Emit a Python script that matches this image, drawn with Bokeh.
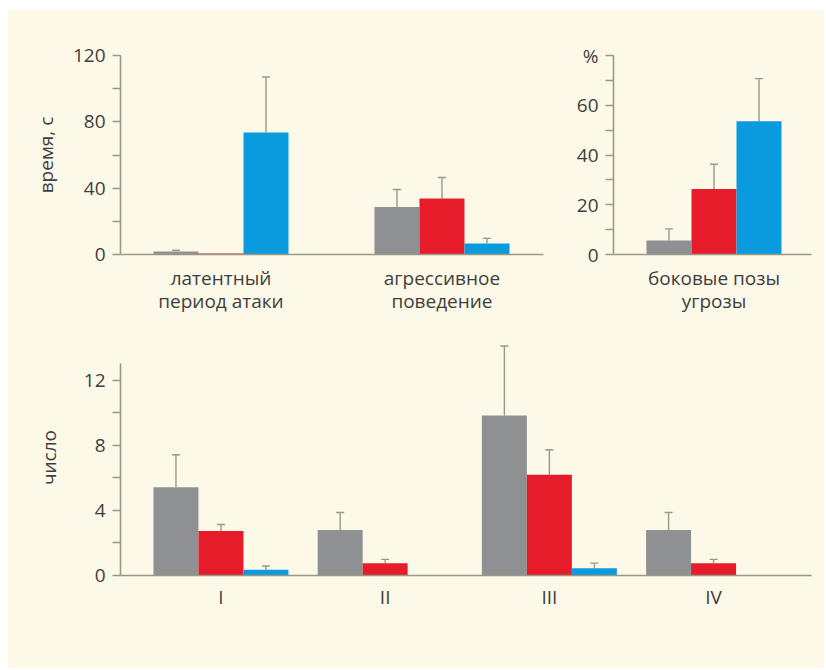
from bokeh.plotting import figure
from bokeh.layouts import column, row, Spacer
from bokeh.models import (Range1d, FixedTicker, Whisker, TeeHead, ColumnDataSource)
from bokeh.embed import file_html
from bokeh.resources import INLINE

# ---------------- data ----------------
top_categories = ["латентный\nпериод атаки", "агрессивное\nповедение"]
top_gray = [1.8, 28.7]
top_gray_err = [0.8, 10.5]
top_red = [0.6, 33.8]
top_red_err = [0.0, 12.6]
top_blue = [73.6, 6.6]
top_blue_err = [33.4, 3.1]

side_categories = ["боковые позы\nугрозы"]
side_gray = [5.6]
side_gray_err = [4.7]
side_red = [26.3]
side_red_err = [10.0]
side_blue = [53.6]
side_blue_err = [17.1]

bottom_categories = ["I", "II", "III", "IV"]
bottom_gray = [5.42, 2.8, 9.83, 2.8]
bottom_gray_err = [2.0, 1.07, 4.27, 1.07]
bottom_red = [2.74, 0.76, 6.19, 0.76]
bottom_red_err = [0.39, 0.23, 1.54, 0.23]
bottom_blue = [0.35, 0.0, 0.45, 0.0]
bottom_blue_err = [0.23, 0.0, 0.31, 0.0]

top_ticks = [0, 40, 80, 120]
top_minor = [20, 60, 100]
side_ticks = [0, 20, 40, 60, 80]
side_minor = [10, 30, 50, 70]
side_tick_labels = {80: "%"}
bottom_ticks = [0, 4, 8, 12]
bottom_minor = [2, 6, 10]

# ---------------- style ----------------
BG = "#FDF9E9"
GRAY = "#8F9092"
RED = "#E61C2A"
BLUE = "#0A9BDF"
AXIS = "#9C9888"
TXT = "#3E3E3E"
FONT = "Open Sans"
FS = "19px"


def make_fig(width, height, xr, yr, mb):
    p = figure(width=width, height=height, x_range=xr, y_range=yr,
               output_backend="svg", toolbar_location=None,
               min_border_left=mb[0], min_border_top=mb[1],
               min_border_right=mb[2], min_border_bottom=mb[3])
    p.background_fill_color = BG
    p.border_fill_color = BG
    p.outline_line_color = None
    p.grid.visible = False
    for ax in (p.xaxis[0], p.yaxis[0]):
        ax.axis_line_color = AXIS
        ax.axis_line_width = 1.6
        ax.major_tick_line_color = AXIS
        ax.minor_tick_line_color = AXIS
        ax.major_tick_line_width = 1.3
        ax.minor_tick_line_width = 1.3
        ax.major_label_text_font = FONT
        ax.major_label_text_font_size = FS
        ax.major_label_text_color = TXT
        ax.axis_label_text_font = FONT
        ax.axis_label_text_font_size = FS
        ax.axis_label_text_font_style = "normal"
        ax.axis_label_text_color = TXT
    p.yaxis.major_tick_out = 8
    p.yaxis.major_tick_in = 0
    p.yaxis.minor_tick_out = 8
    p.yaxis.minor_tick_in = 0
    p.yaxis.major_label_standoff = 7
    p.xaxis.major_tick_out = 0
    p.xaxis.major_tick_in = 0
    p.xaxis.minor_tick_line_color = None
    p.xaxis.major_tick_line_color = None
    p.xaxis.major_label_standoff = 10
    p.xaxis.major_label_text_line_height = 0.9
    return p


def draw_groups(p, centers, series):
    offsets = [-1.0, 0.0, 1.0]
    for off, (vals, errs, color) in zip(offsets, series):
        xs = [c + off for c in centers]
        keep = [i for i, v in enumerate(vals) if v > 0]
        src = ColumnDataSource(dict(x=[xs[i] for i in keep],
                                    top=[vals[i] for i in keep]))
        p.vbar(x="x", top="top", width=1.0, bottom=0, source=src,
               fill_color=color, line_color=None)
        ek = [i for i in keep if errs[i] > 0]
        wsrc = ColumnDataSource(dict(x=[xs[i] for i in ek],
                                     lo=[vals[i] for i in ek],
                                     hi=[vals[i] + errs[i] for i in ek]))
        w = Whisker(source=wsrc, base="x", lower="lo", upper="hi",
                    dimension="height", line_color=AXIS, line_width=1.4,
                    lower_head=None,
                    upper_head=TeeHead(size=8, line_color=AXIS, line_width=1.4))
        p.add_layout(w)


FIRST = 2.233

# --- top-left ---
gap1 = 4.911
c1 = [FIRST + i * gap1 for i in range(len(top_categories))]
p1 = make_fig(545, 318, Range1d(0, 9.4), Range1d(0, 120), (112, 38, 10, 74))
draw_groups(p1, c1, [(top_gray, top_gray_err, GRAY),
                     (top_red, top_red_err, RED),
                     (top_blue, top_blue_err, BLUE)])
p1.yaxis.ticker = FixedTicker(ticks=top_ticks, minor_ticks=top_minor)
p1.yaxis.axis_label = "время, с"
p1.yaxis.axis_label_standoff = 11
p1.xaxis.ticker = FixedTicker(ticks=c1)
p1.xaxis.major_label_overrides = {c: t for c, t in zip(c1, top_categories)}

# --- top-right ---
c2 = [FIRST + i for i in range(len(side_categories))]
p2 = make_fig(271, 318, Range1d(0, 4.4), Range1d(0, 80), (60, 45, 13, 74))
draw_groups(p2, c2, [(side_gray, side_gray_err, GRAY),
                     (side_red, side_red_err, RED),
                     (side_blue, side_blue_err, BLUE)])
p2.yaxis.ticker = FixedTicker(ticks=side_ticks, minor_ticks=side_minor)
p2.yaxis.major_label_overrides = side_tick_labels
p2.xaxis.ticker = FixedTicker(ticks=c2)
p2.xaxis.major_label_overrides = {c: t for c, t in zip(c2, side_categories)}

# --- bottom ---
gap3 = 3.65
c3 = [FIRST + i * gap3 for i in range(len(bottom_categories))]
p3 = make_fig(816, 340, Range1d(0, 15.36), Range1d(0, 14.5), (112, 11, 13, 93))
draw_groups(p3, c3, [(bottom_gray, bottom_gray_err, GRAY),
                     (bottom_red, bottom_red_err, RED),
                     (bottom_blue, bottom_blue_err, BLUE)])
p3.yaxis.ticker = FixedTicker(ticks=bottom_ticks, minor_ticks=bottom_minor)
p3.yaxis.bounds = (0, 13)
p3.yaxis.axis_label = "число"
p3.yaxis.axis_label_standoff = 19
p3.xaxis.major_label_standoff = 8
p3.xaxis.ticker = FixedTicker(ticks=c3)
p3.xaxis.major_label_overrides = {c: t for c, t in zip(c3, bottom_categories)}

panel = column(row(p1, p2, spacing=0, styles={"background-color": BG}), p3,
               spacing=0, styles={"background-color": BG})
layout = row(Spacer(width=8), column(Spacer(height=10), panel, spacing=0), spacing=0)

open("out.html", "w").write(file_html(layout, INLINE))
